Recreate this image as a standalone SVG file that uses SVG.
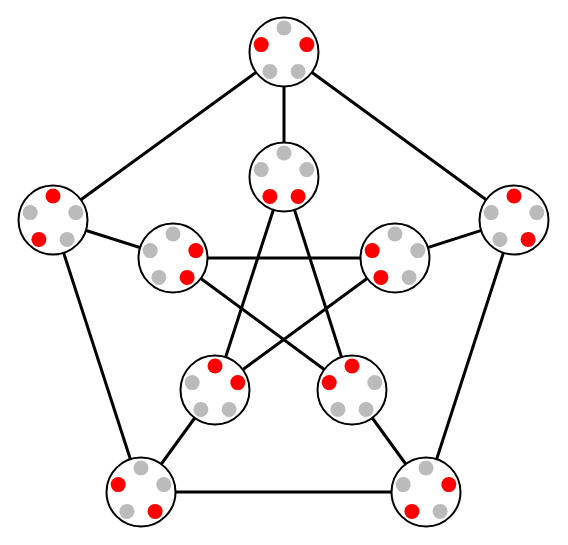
<svg xmlns="http://www.w3.org/2000/svg" width="568" height="545" viewBox="0 0 568 545">
<style>
.e{stroke:#000;stroke-width:3;fill:none}
.n{fill:#fff;stroke:#000;stroke-width:2}
.g{fill:#bbb}
.r{fill:#f00}
</style>
<defs>
<circle id="c" r="34.5" class="n"/>
</defs>
<rect width="568" height="545" fill="#fff"/>
<g id="edges">
<line class="e" x1="284" y1="52" x2="53" y2="220"/>
<line class="e" x1="53" y1="220" x2="141" y2="492"/>
<line class="e" x1="141" y1="492" x2="426" y2="492"/>
<line class="e" x1="426" y1="492" x2="514" y2="220"/>
<line class="e" x1="514" y1="220" x2="284" y2="52"/>
<line class="e" x1="284" y1="52" x2="284" y2="177"/>
<line class="e" x1="53" y1="220" x2="173" y2="258"/>
<line class="e" x1="514" y1="220" x2="395" y2="258"/>
<line class="e" x1="141" y1="492" x2="215" y2="390"/>
<line class="e" x1="426" y1="492" x2="352" y2="390"/>
<line class="e" x1="284" y1="177" x2="215" y2="390"/>
<line class="e" x1="284" y1="177" x2="352" y2="390"/>
<line class="e" x1="173" y1="258" x2="395" y2="258"/>
<line class="e" x1="173" y1="258" x2="352" y2="390"/>
<line class="e" x1="395" y1="258" x2="215" y2="390"/>
</g>
<g id="n_top" transform="translate(284,52)">
<use href="#c"/>
<circle class="g" cx="0" cy="-24" r="7.5"/><circle class="r" cx="22.8" cy="-7.4" r="7.5"/><circle class="g" cx="14.1" cy="19.4" r="7.5"/><circle class="g" cx="-14.1" cy="19.4" r="7.5"/><circle class="r" cx="-22.8" cy="-7.4" r="7.5"/>
</g>
<g id="n_left" transform="translate(53,220)">
<use href="#c"/>
<circle class="r" cx="0" cy="-24" r="7.5"/><circle class="g" cx="22.8" cy="-7.4" r="7.5"/><circle class="g" cx="14.1" cy="19.4" r="7.5"/><circle class="r" cx="-14.1" cy="19.4" r="7.5"/><circle class="g" cx="-22.8" cy="-7.4" r="7.5"/>
</g>
<g id="n_right" transform="translate(514,220)">
<use href="#c"/>
<circle class="r" cx="0" cy="-24" r="7.5"/><circle class="g" cx="22.8" cy="-7.4" r="7.5"/><circle class="r" cx="14.1" cy="19.4" r="7.5"/><circle class="g" cx="-14.1" cy="19.4" r="7.5"/><circle class="g" cx="-22.8" cy="-7.4" r="7.5"/>
</g>
<g id="n_bl" transform="translate(141,492)">
<use href="#c"/>
<circle class="g" cx="0" cy="-24" r="7.5"/><circle class="g" cx="22.8" cy="-7.4" r="7.5"/><circle class="r" cx="14.1" cy="19.4" r="7.5"/><circle class="g" cx="-14.1" cy="19.4" r="7.5"/><circle class="r" cx="-22.8" cy="-7.4" r="7.5"/>
</g>
<g id="n_br" transform="translate(426,492)">
<use href="#c"/>
<circle class="g" cx="0" cy="-24" r="7.5"/><circle class="r" cx="22.8" cy="-7.4" r="7.5"/><circle class="g" cx="14.1" cy="19.4" r="7.5"/><circle class="r" cx="-14.1" cy="19.4" r="7.5"/><circle class="g" cx="-22.8" cy="-7.4" r="7.5"/>
</g>
<g id="n_itop" transform="translate(284,177)">
<use href="#c"/>
<circle class="g" cx="0" cy="-24" r="7.5"/><circle class="g" cx="22.8" cy="-7.4" r="7.5"/><circle class="r" cx="14.1" cy="19.4" r="7.5"/><circle class="r" cx="-14.1" cy="19.4" r="7.5"/><circle class="g" cx="-22.8" cy="-7.4" r="7.5"/>
</g>
<g id="n_ileft" transform="translate(173,258)">
<use href="#c"/>
<circle class="g" cx="0" cy="-24" r="7.5"/><circle class="r" cx="22.8" cy="-7.4" r="7.5"/><circle class="r" cx="14.1" cy="19.4" r="7.5"/><circle class="g" cx="-14.1" cy="19.4" r="7.5"/><circle class="g" cx="-22.8" cy="-7.4" r="7.5"/>
</g>
<g id="n_iright" transform="translate(395,258)">
<use href="#c"/>
<circle class="g" cx="0" cy="-24" r="7.5"/><circle class="g" cx="22.8" cy="-7.4" r="7.5"/><circle class="g" cx="14.1" cy="19.4" r="7.5"/><circle class="r" cx="-14.1" cy="19.4" r="7.5"/><circle class="r" cx="-22.8" cy="-7.4" r="7.5"/>
</g>
<g id="n_ibl" transform="translate(215,390)">
<use href="#c"/>
<circle class="r" cx="0" cy="-24" r="7.5"/><circle class="r" cx="22.8" cy="-7.4" r="7.5"/><circle class="g" cx="14.1" cy="19.4" r="7.5"/><circle class="g" cx="-14.1" cy="19.4" r="7.5"/><circle class="g" cx="-22.8" cy="-7.4" r="7.5"/>
</g>
<g id="n_ibr" transform="translate(352,390)">
<use href="#c"/>
<circle class="r" cx="0" cy="-24" r="7.5"/><circle class="g" cx="22.8" cy="-7.4" r="7.5"/><circle class="g" cx="14.1" cy="19.4" r="7.5"/><circle class="g" cx="-14.1" cy="19.4" r="7.5"/><circle class="r" cx="-22.8" cy="-7.4" r="7.5"/>
</g>
</svg>
